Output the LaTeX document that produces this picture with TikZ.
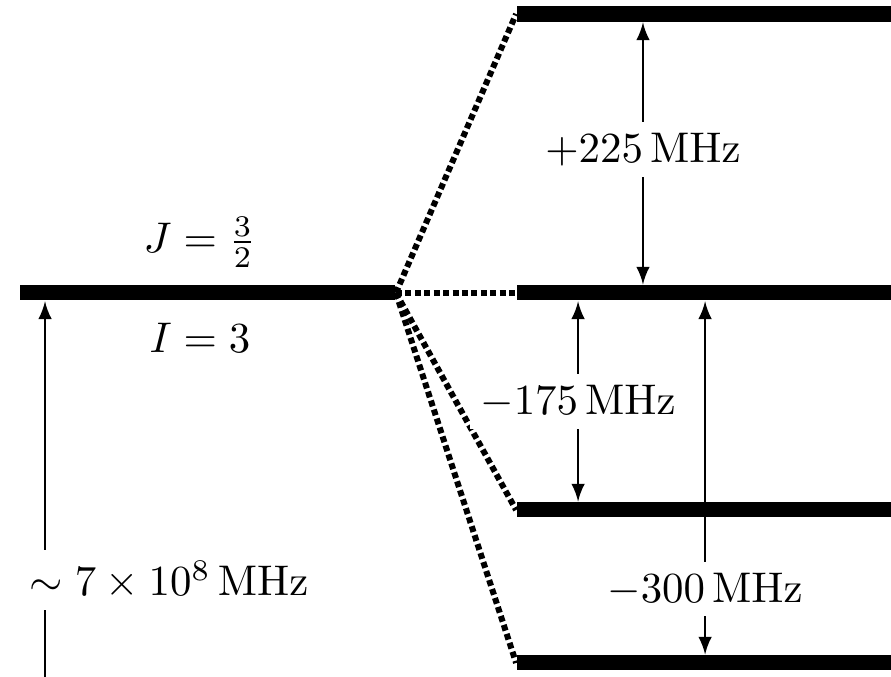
\documentclass[tikz,border=0pt]{standalone}
\tikzset{
  level/.style={fill=black,inner sep=0pt,minimum height=3.5pt},
  link/.style={line width=1.4pt,dash pattern=on 1.4pt off 0.8pt},
  gap/.style={latex-latex,line width=0.45pt},
  gaplabel/.style={fill=white,inner sep=2.5pt}
}
\begin{document}
\begin{tikzpicture}[x=1cm,y=1cm]
  \useasboundingbox (0,0) rectangle (7.303,5.549);
  % levels
  \node[level,minimum width=3.074cm] (lv0) at (1.701,3.148) {};
  \foreach \n/\y in {a/5.434,b/3.148,c/1.369,d/0.115} {
    \node[level,minimum width=3.066cm] (lv\n) at (5.770,\y) {};
    \draw[link] (lv0.east)--(lv\n.west);
  }
  \node[anchor=south] (jlab) at (1.639,3.23) {$J=\frac{3}{2}$};
  \node (ilab) at (1.639,2.779) {$I=3$};
  % splittings
  \coordinate (xa) at (5.270,0);
  \coordinate (xb) at (4.738,0);
  \coordinate (xc) at (5.779,0);
  \coordinate (x0) at (0.369,0);
  \draw[gap] (lva.south -| xa)--(lvb.north -| xa)
    node[pos=0.485,gaplabel] {$+225\,\mathrm{MHz}$};
  \draw[gap] (lvb.south -| xb)--(lvc.north -| xb)
    node[pos=0.5,gaplabel] {$-175\,\mathrm{MHz}$};
  \draw[gap] (lvb.south -| xc)--(lvd.north -| xc)
    node[pos=0.815,gaplabel] {$-300\,\mathrm{MHz}$};
  \draw[-latex,line width=0.45pt] (x0)--(lv0.south -| x0);
  \node[gaplabel] (elab) at (1.385,0.795) {$\sim 7\times10^{8}\,\mathrm{MHz}$};
\end{tikzpicture}
\end{document}
